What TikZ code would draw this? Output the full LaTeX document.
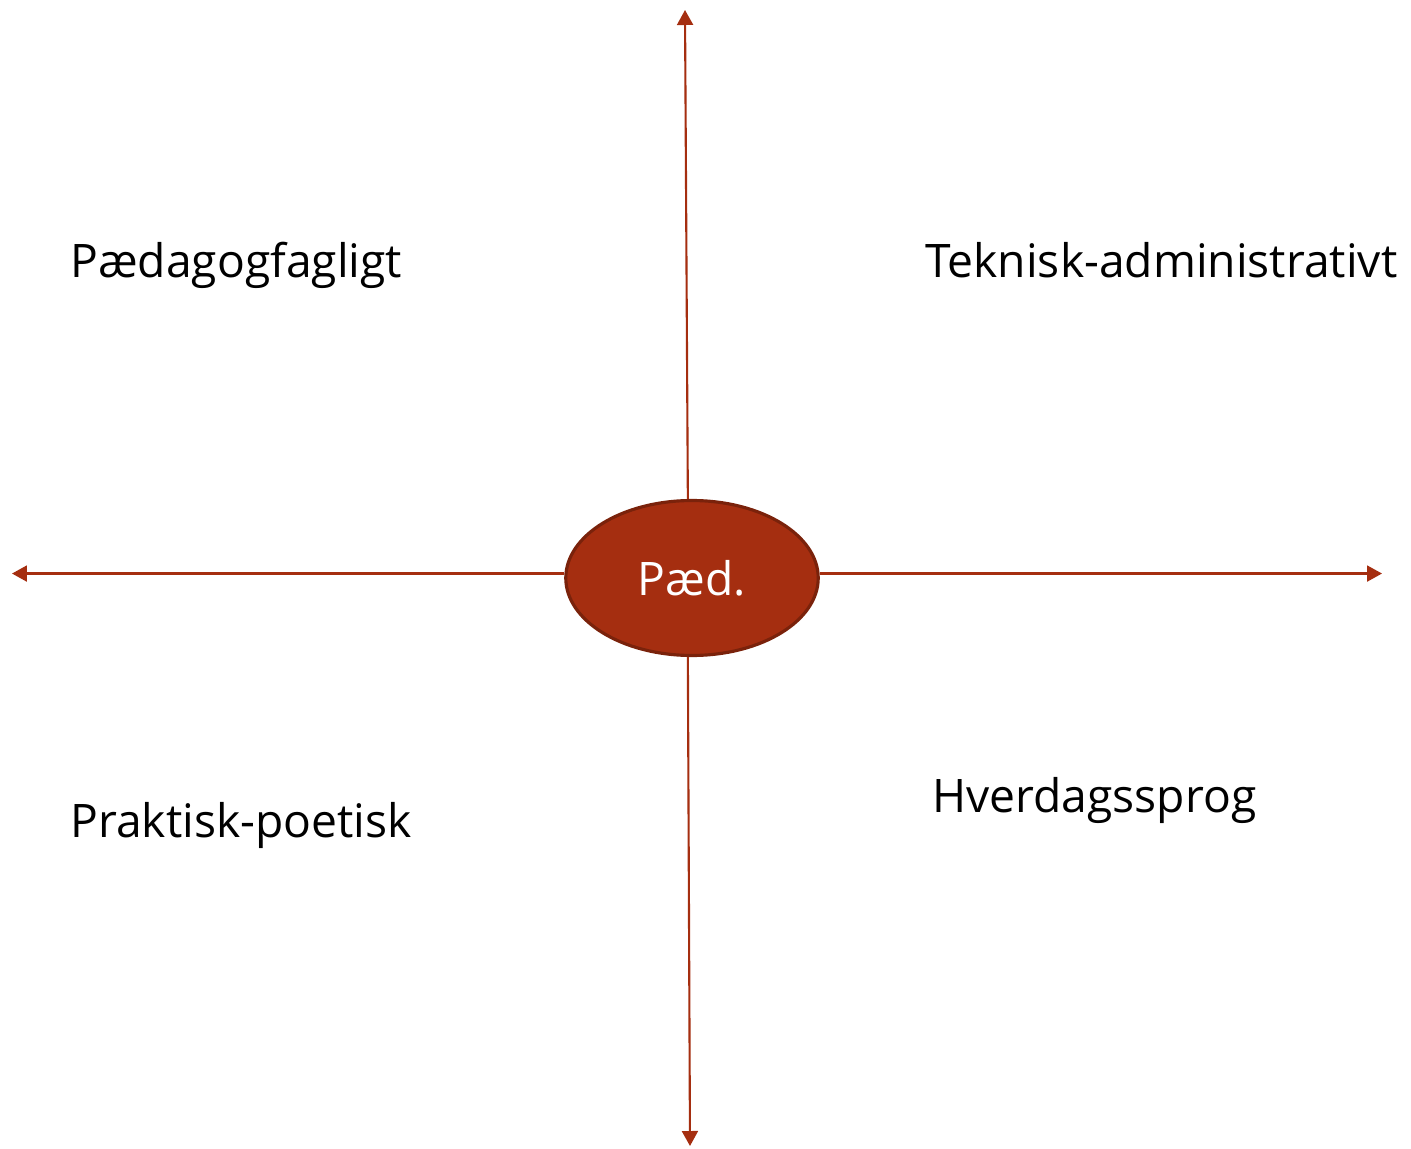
\documentclass[tikz,border=0pt]{standalone}
\usepackage{fontspec}
\setmainfont{Open Sans}
\usepackage{tikz}
\usetikzlibrary{shapes,arrows.meta,positioning}
\definecolor{brick}{HTML}{A52E10}
\definecolor{brickdark}{HTML}{7A220B}
\tikzset{x=0.02cm, y=-0.02cm, % one unit is one pixel of the sketch
         axis/.style={ % Sets the properties for each axis arrow
           draw=brick,
           line width=1.2pt,
           -{Triangle[length=0.3cm,width=0.32cm]}},
         centre/.style={ % The ellipse in the middle
           ellipse,
           fill=brick,
           draw=brickdark,
           line width=1.8pt,
           minimum width=5.05cm,
           minimum height=3.1cm,
           inner sep=0pt,
           text=white,
           font=\fontsize{26.3}{32}\selectfont},
         field/.style={ % Labels in the four quadrants
           anchor=base west,
           inner sep=0pt,
           font=\fontsize{26.3}{32}\selectfont}}

\begin{document}
\begin{tikzpicture}
\useasboundingbox (0,0) rectangle (1411,1149);
\node[centre] (paed) at (692,578) {Pæd.};

\coordinate (top) at (685,10);
\coordinate (bottom) at (690,1146);
\coordinate (left) at (12,574);
\coordinate (right) at (1382,574);

\draw[axis] (paed.93) -- (top);
\draw[axis] (paed.267) -- (bottom);
\draw[axis] (paed.178) -- (paed.178 -| left);
\draw[axis] (paed.2) -- (paed.2 -| right);

\node[field] (pf) at (70,277) {Pædagogfagligt};
\node[field] (ta) at (925,277) {Teknisk-administrativt};
\node[field] (pp) at (70,837) {Praktisk-poetisk};
\node[field] (hv) at (932,812) {Hverdagssprog};

\end{tikzpicture}
\end{document}
